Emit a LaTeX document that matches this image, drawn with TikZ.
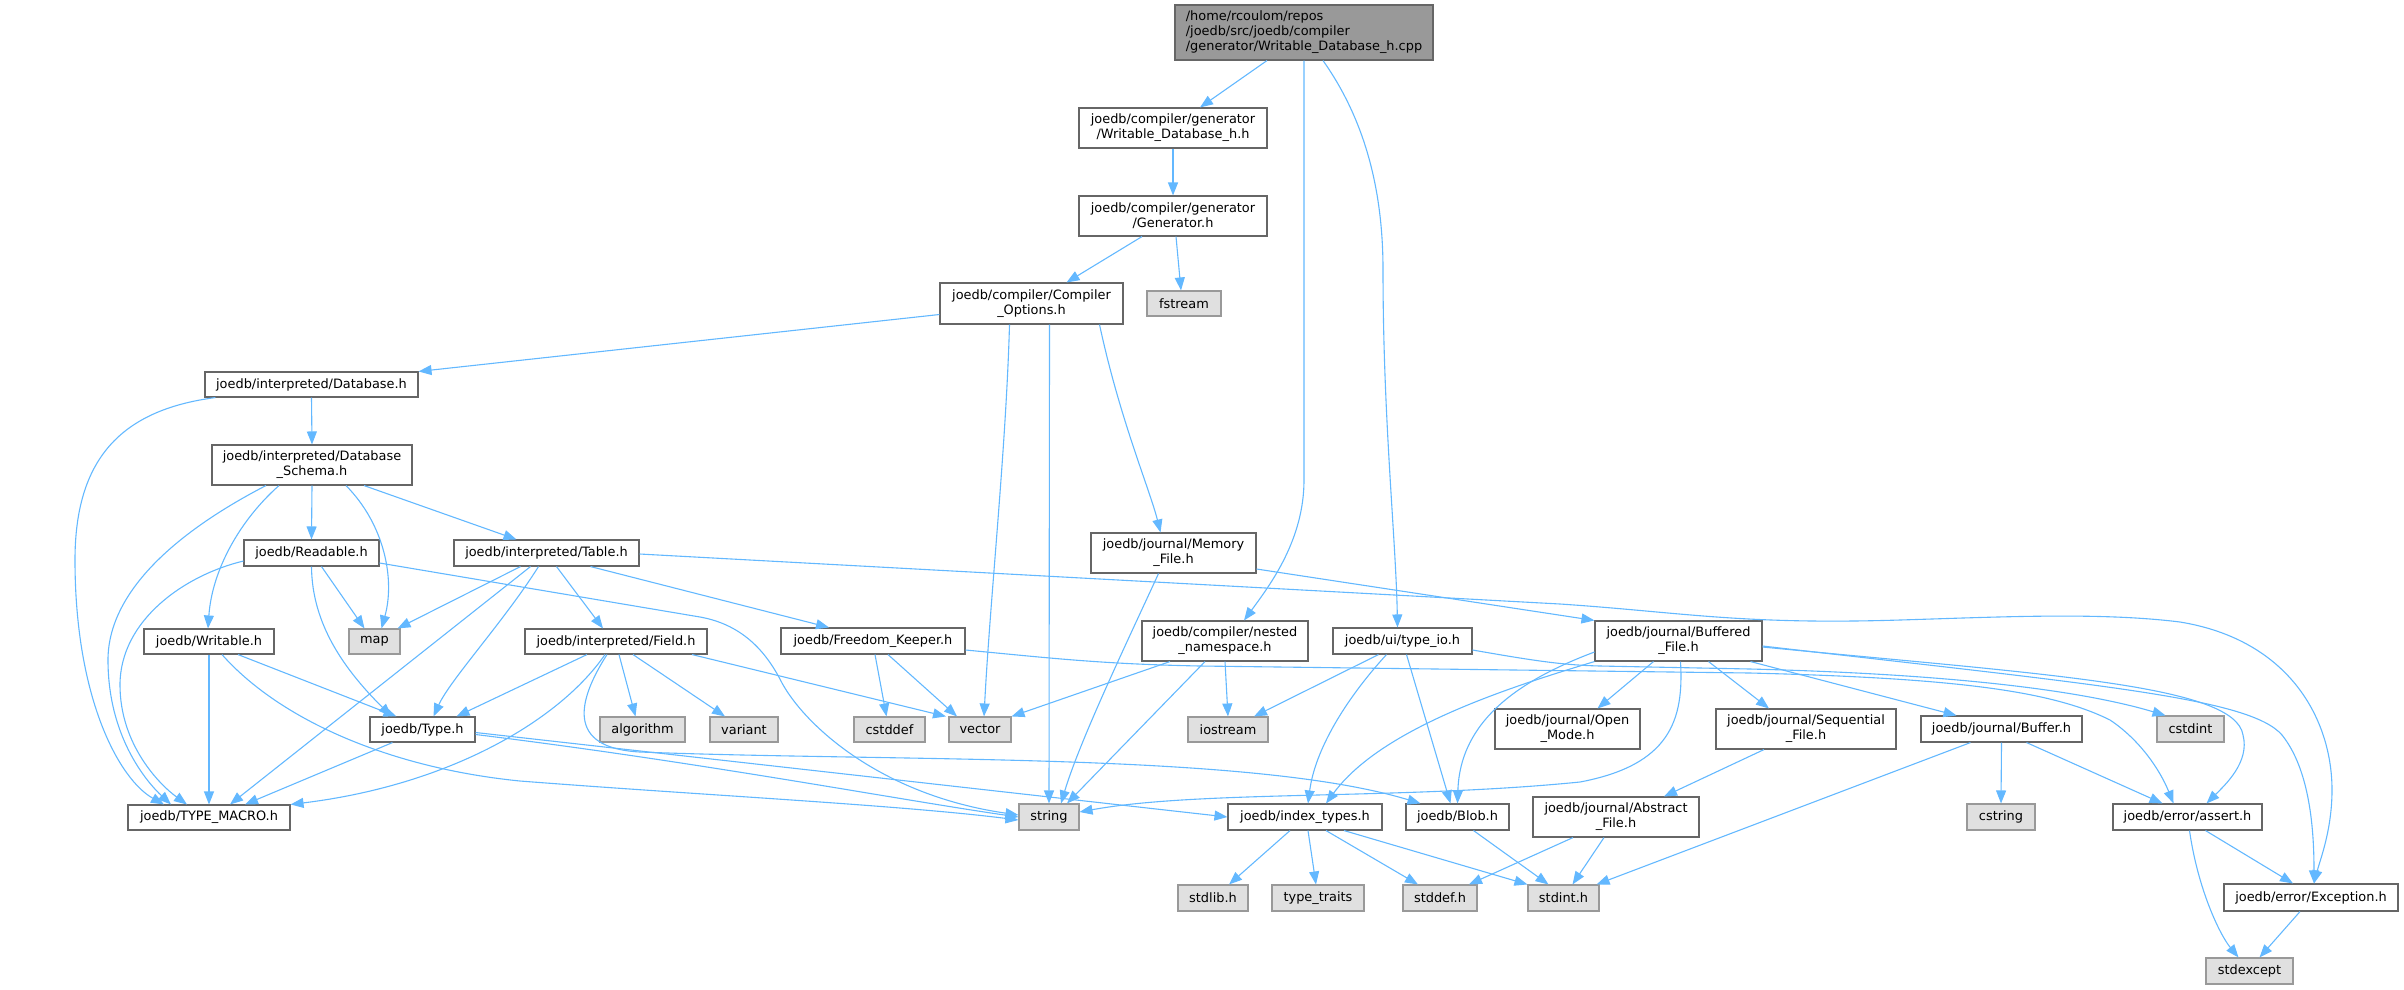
\documentclass[tikz,border=0pt]{standalone}
\usepackage{fontspec}
\setmainfont{DejaVu Sans}
\usetikzlibrary{arrows.meta}
\definecolor{edgec}{HTML}{63B8FF}
\definecolor{bord}{HTML}{666666}
\definecolor{sysb}{HTML}{999999}
\definecolor{sysf}{HTML}{E0E0E0}
\definecolor{mainf}{HTML}{999999}
\tikzset{
  nb/.style={draw=bord, line width=1.1pt, fill=white, inner sep=0pt, font=\fontsize{12.9}{15}\selectfont, align=center},
  sb/.style={nb, draw=sysb, fill=sysf},
  mb/.style={nb, fill=mainf, align=left},
  dep/.style={draw=edgec, line width=1.1pt, -{Triangle[length=13pt,width=10pt]}},
}
\newcommand\mkbox[6]{\node[#1, minimum width=#4pt, minimum height=#5pt] (#2) at (#3) {#6};}
\begin{document}
\begin{tikzpicture}[x=1pt,y=-1pt]
\useasboundingbox (0,0) rectangle (2404,989);
% nodes
\mkbox{mb}{main}{1304,32.5}{258}{55}{/home/rcoulom/repos\\/joedb/src/joedb/compiler\\/generator/Writable\_Database\_h.cpp}
\mkbox{nb}{wdh}{1173,128}{188}{40}{joedb/compiler/generator\\/Writable\_Database\_h.h}
\mkbox{nb}{gen}{1173,216}{188}{40}{joedb/compiler/generator\\/Generator.h}
\mkbox{nb}{co}{1031.5,303.5}{183}{41}{joedb/compiler/Compiler\\\_Options.h}
\mkbox{sb}{fstream}{1184,303.5}{74}{25}{fstream}
\mkbox{nb}{dbh}{311.5,384.5}{213}{25}{joedb/interpreted/Database.h}
\mkbox{nb}{dbs}{312,465}{200}{40}{joedb/interpreted/Database\\\_Schema.h}
\mkbox{nb}{rd}{311.5,553}{135}{26}{joedb/Readable.h}
\mkbox{nb}{tbl}{546.5,553}{185}{26}{joedb/interpreted/Table.h}
\mkbox{nb}{mem}{1173.5,553}{165}{40}{joedb/journal/Memory\\\_File.h}
\mkbox{nb}{wr}{209,641.5}{130}{25}{joedb/Writable.h}
\mkbox{sb}{map}{374.5,641.5}{51}{25}{map}
\mkbox{nb}{fld}{616,641.5}{182}{25}{joedb/interpreted/Field.h}
\mkbox{nb}{fk}{873,641}{184}{26}{joedb/Freedom\_Keeper.h}
\mkbox{nb}{nn}{1225,641}{166}{40}{joedb/compiler/nested\\\_namespace.h}
\mkbox{nb}{tio}{1402.5,641}{139}{26}{joedb/ui/type\_io.h}
\mkbox{nb}{bf}{1678.5,641}{167}{40}{joedb/journal/Buffered\\\_File.h}
\mkbox{nb}{type}{422.5,729.5}{105}{25}{joedb/Type.h}
\mkbox{sb}{algorithm}{642.5,729.5}{85}{25}{algorithm}
\mkbox{sb}{variant}{744,729.5}{68}{25}{variant}
\mkbox{sb}{cstddef}{889.5,729.5}{71}{25}{cstddef}
\mkbox{sb}{vector}{980,729.5}{62}{25}{vector}
\mkbox{sb}{iostream}{1228,729.5}{80}{25}{iostream}
\mkbox{nb}{om}{1567.5,729}{145}{40}{joedb/journal/Open\\\_Mode.h}
\mkbox{nb}{seq}{1806,729}{180}{40}{joedb/journal/Sequential\\\_File.h}
\mkbox{nb}{buf}{2001.5,729}{161}{26}{joedb/journal/Buffer.h}
\mkbox{sb}{cstdint}{2190.5,729}{67}{26}{cstdint}
\mkbox{nb}{tm}{209,817.5}{162}{25}{joedb/TYPE\_MACRO.h}
\mkbox{sb}{string}{1049,817}{60}{26}{string}
\mkbox{nb}{it}{1305,817}{154}{26}{joedb/index\_types.h}
\mkbox{nb}{blob}{1457.5,817}{103}{26}{joedb/Blob.h}
\mkbox{nb}{af}{1616,817}{166}{40}{joedb/journal/Abstract\\\_File.h}
\mkbox{sb}{cstring}{2001,817}{68}{26}{cstring}
\mkbox{nb}{assert}{2187.5,817}{149}{26}{joedb/error/assert.h}
\mkbox{sb}{stdlib}{1213,898}{70}{26}{stdlib.h}
\mkbox{sb}{tt}{1318,898}{92}{26}{type\_traits}
\mkbox{sb}{stddef}{1440,898}{74}{26}{stddef.h}
\mkbox{sb}{stdint}{1563.5,898}{71}{26}{stdint.h}
\mkbox{nb}{exc}{2311,897.5}{174}{27}{joedb/error/Exception.h}
\mkbox{sb}{stdexcept}{2249.5,971}{87}{26}{stdexcept}
% edges
\draw[dep] ([xshift=-37pt]main.south) -- ([xshift=27pt]wdh.north);
\draw[dep] (main.south) -- (1304,480) .. controls (1304,540) and (1270,585) .. ([xshift=19pt]nn.north);
\draw[dep] ([xshift=19pt]main.south) .. controls (1365,120) and (1383,190) .. (1383,270) .. controls (1383,420) and (1396,540) .. ([xshift=-5pt]tio.north);
\draw[dep] (wdh.south) -- (gen.north);
\draw[dep] ([xshift=-31pt]gen.south) -- ([xshift=35pt]co.north);
\draw[dep] ([xshift=3pt]gen.south) -- ([xshift=-3pt]fstream.north);
\draw[dep] ([yshift=-11pt]co.west) -- (dbh.north east);
\draw[dep] ([xshift=-22pt]co.south) .. controls (1006,450) and (990,600) .. ([xshift=4pt]vector.north);
\draw[dep] ([xshift=18pt]co.south) -- (string.north);
\draw[dep] ([xshift=68pt]co.south) .. controls (1120,420) and (1150,490) .. ([xshift=-13pt]mem.north);
\draw[dep] (dbh.south) -- (dbs.north);
\draw[dep] ([xshift=11pt]dbh.south west) .. controls (120,410) and (75,460) .. (75,560) .. controls (75,700) and (120,780) .. ([xshift=-45pt]tm.north);
\draw[dep] (dbs.south) -- (rd.north);
\draw[dep] ([xshift=-33pt]dbs.south) .. controls (240,520) and (212,570) .. ([xshift=-1pt]wr.north);
\draw[dep] ([xshift=52pt]dbs.south) -- ([xshift=-30pt]tbl.north);
\draw[dep] ([xshift=34pt]dbs.south) .. controls (385,525) and (395,580) .. ([xshift=7pt]map.north);
\draw[dep] ([xshift=-46pt]dbs.south) .. controls (180,530) and (108,590) .. (108,660) .. controls (108,740) and (150,785) .. ([xshift=-38pt]tm.north);
\draw[dep] ([xshift=10pt]rd.south) -- ([xshift=-10pt]map.north);
\draw[dep] (rd.south) .. controls (312,625) and (345,670) .. ([xshift=-31pt]type.north);
\draw[dep] ([yshift=-8pt]rd.west) .. controls (185,575) and (120,620) .. (120,685) .. controls (120,745) and (160,785) .. ([xshift=-22pt]tm.north);
\draw[dep] ([yshift=-10pt]rd.east) -- (700,617) .. controls (745,625) and (768,655) .. (782,683) .. controls (805,725) and (880,795) .. ([yshift=2pt]string.west);
\draw[dep] ([xshift=-26pt]tbl.south) -- ([xshift=-3pt]map.north east);
\draw[dep] ([xshift=-16pt]tbl.south) -- ([xshift=21pt]tm.north);
\draw[dep] ([xshift=-8pt]tbl.south) .. controls (505,620) and (450,680) .. ([xshift=11pt]type.north);
\draw[dep] ([xshift=10pt]tbl.south) -- ([xshift=-13pt]fld.north);
\draw[dep] ([xshift=44pt]tbl.south) -- ([xshift=-44pt]fk.north);
\draw[dep] ([yshift=-1pt]tbl.east) -- (1560,604) .. controls (1680,612) and (1740,625) .. (1900,620) .. controls (2000,617) and (2100,612) .. (2180,622) .. controls (2290,640) and (2332,720) .. (2332,790) .. controls (2332,830) and (2320,860) .. ([xshift=3pt]exc.north);
\draw[dep] ([xshift=29pt]wr.south) -- ([xshift=-26pt]type.north);
\draw[dep] (wr.south) -- (tm.north);
\draw[dep] ([xshift=13pt]wr.south) .. controls (280,720) and (390,768) .. (520,781) .. controls (700,795) and (900,805) .. ([yshift=-3pt]string.west);
\draw[dep] ([xshift=-29pt]fld.south) -- ([xshift=34pt]type.north);
\draw[dep] ([xshift=-11pt]fld.south) .. controls (560,720) and (450,785) .. (tm.north east);
\draw[dep] ([xshift=3pt]fld.south) -- ([xshift=-7pt]algorithm.north);
\draw[dep] ([xshift=17pt]fld.south) -- ([xshift=-19pt]variant.north);
\draw[dep] ([xshift=76pt]fld.south) -- ([xshift=-34pt]vector.north);
\draw[dep] ([xshift=-9pt]fld.south) .. controls (578,700) and (565,748) .. (640,752) .. controls (900,762) and (1250,752) .. ([xshift=-37pt]blob.north);
\draw[dep] ([xshift=2pt]fk.south) -- ([xshift=-3pt]cstddef.north);
\draw[dep] ([xshift=15pt]fk.south) -- ([xshift=-23pt]vector.north);
\draw[dep] ([yshift=-9pt]fk.east) .. controls (1050,658) and (1100,664) .. (1200,666) -- (1750,673) .. controls (1950,678) and (2050,690) .. (2110,720) .. controls (2140,740) and (2160,770) .. ([xshift=-14pt]assert.north);
\draw[dep] ([yshift=-9pt]tio.east) .. controls (1530,660) and (1560,665) .. (1600,666) -- (1750,669) .. controls (1950,674) and (2080,690) .. ([xshift=-25pt]cstdint.north);
\draw[dep] ([xshift=-30pt]type.south) -- ([xshift=36pt]tm.north);
\draw[dep] ([yshift=-5pt]type.east) .. controls (700,762) and (900,800) .. ([yshift=0pt]string.west);
\draw[dep] ([yshift=-3pt]type.east) -- (it.west);
\draw[dep] ([xshift=-15pt]mem.south) .. controls (1128,640) and (1080,740) .. ([xshift=12pt]string.north);
\draw[dep] ([yshift=-16pt]mem.east) -- (bf.north west);
\draw[dep] ([xshift=-55pt]nn.south) -- (vector.north east);
\draw[dep] ([xshift=-20pt]nn.south) -- ([xshift=18pt]string.north);
\draw[dep] (nn.south) -- (iostream.north);
\draw[dep] ([xshift=-24pt]tio.south) -- ([xshift=26pt]iostream.north);
\draw[dep] ([xshift=-16pt]tio.south) .. controls (1345,700) and (1315,750) .. ([xshift=3pt]it.north);
\draw[dep] ([xshift=4pt]tio.south) -- ([xshift=-7pt]blob.north);
\draw[dep] ([xshift=-25pt]bf.south) -- ([xshift=30pt]om.north);
\draw[dep] ([xshift=30pt]bf.south) -- ([xshift=-37pt]seq.north);
\draw[dep] ([xshift=72pt]bf.south) -- ([xshift=-45pt]buf.north);
\draw[dep] (bf.south west) .. controls (1500,690) and (1380,730) .. ([xshift=21pt]it.north);
\draw[dep] ([yshift=-11pt]bf.west) .. controls (1520,680) and (1460,720) .. (blob.north);
\draw[dep] ([xshift=2pt]bf.south) .. controls (1684,720) and (1670,765) .. (1580,782) .. controls (1400,800) and (1200,790) .. ([yshift=5pt]string.east);
\draw[dep] ([yshift=-6pt]bf.east) .. controls (2050,675) and (2235,685) .. (2243,735) .. controls (2250,762) and (2225,785) .. ([xshift=19pt]assert.north);
\draw[dep] ([yshift=-5pt]bf.east) .. controls (2100,685) and (2250,698) .. (2282,735) .. controls (2310,770) and (2314,830) .. ([xshift=3pt]exc.north);
\draw[dep] ([xshift=-42pt]seq.south) -- ([xshift=48pt]af.north);
\draw[dep] ([xshift=-31pt]buf.south) -- ([xshift=-3pt]stdint.north east);
\draw[dep] (buf.south) -- (cstring.north);
\draw[dep] ([xshift=25pt]buf.south) -- ([xshift=-25pt]assert.north);
\draw[dep] ([xshift=-43pt]af.south) -- ([xshift=29pt]stddef.north);
\draw[dep] ([xshift=-12pt]af.south) -- ([xshift=9pt]stdint.north);
\draw[dep] ([xshift=16pt]blob.south) -- ([xshift=-15pt]stdint.north);
\draw[dep] ([xshift=-15pt]it.south) -- ([xshift=16pt]stdlib.north);
\draw[dep] ([xshift=3pt]it.south) -- ([xshift=-2pt]tt.north);
\draw[dep] ([xshift=21pt]it.south) -- ([xshift=-22pt]stddef.north);
\draw[dep] ([xshift=39pt]it.south) -- (stdint.north west);
\draw[dep] ([xshift=2pt]assert.south) .. controls (2198,890) and (2220,935) .. ([xshift=-11pt]stdexcept.north);
\draw[dep] ([xshift=18pt]assert.south) -- ([xshift=-18pt]exc.north);
\draw[dep] ([xshift=-11pt]exc.south) -- ([xshift=10pt]stdexcept.north);
\end{tikzpicture}
\end{document}
